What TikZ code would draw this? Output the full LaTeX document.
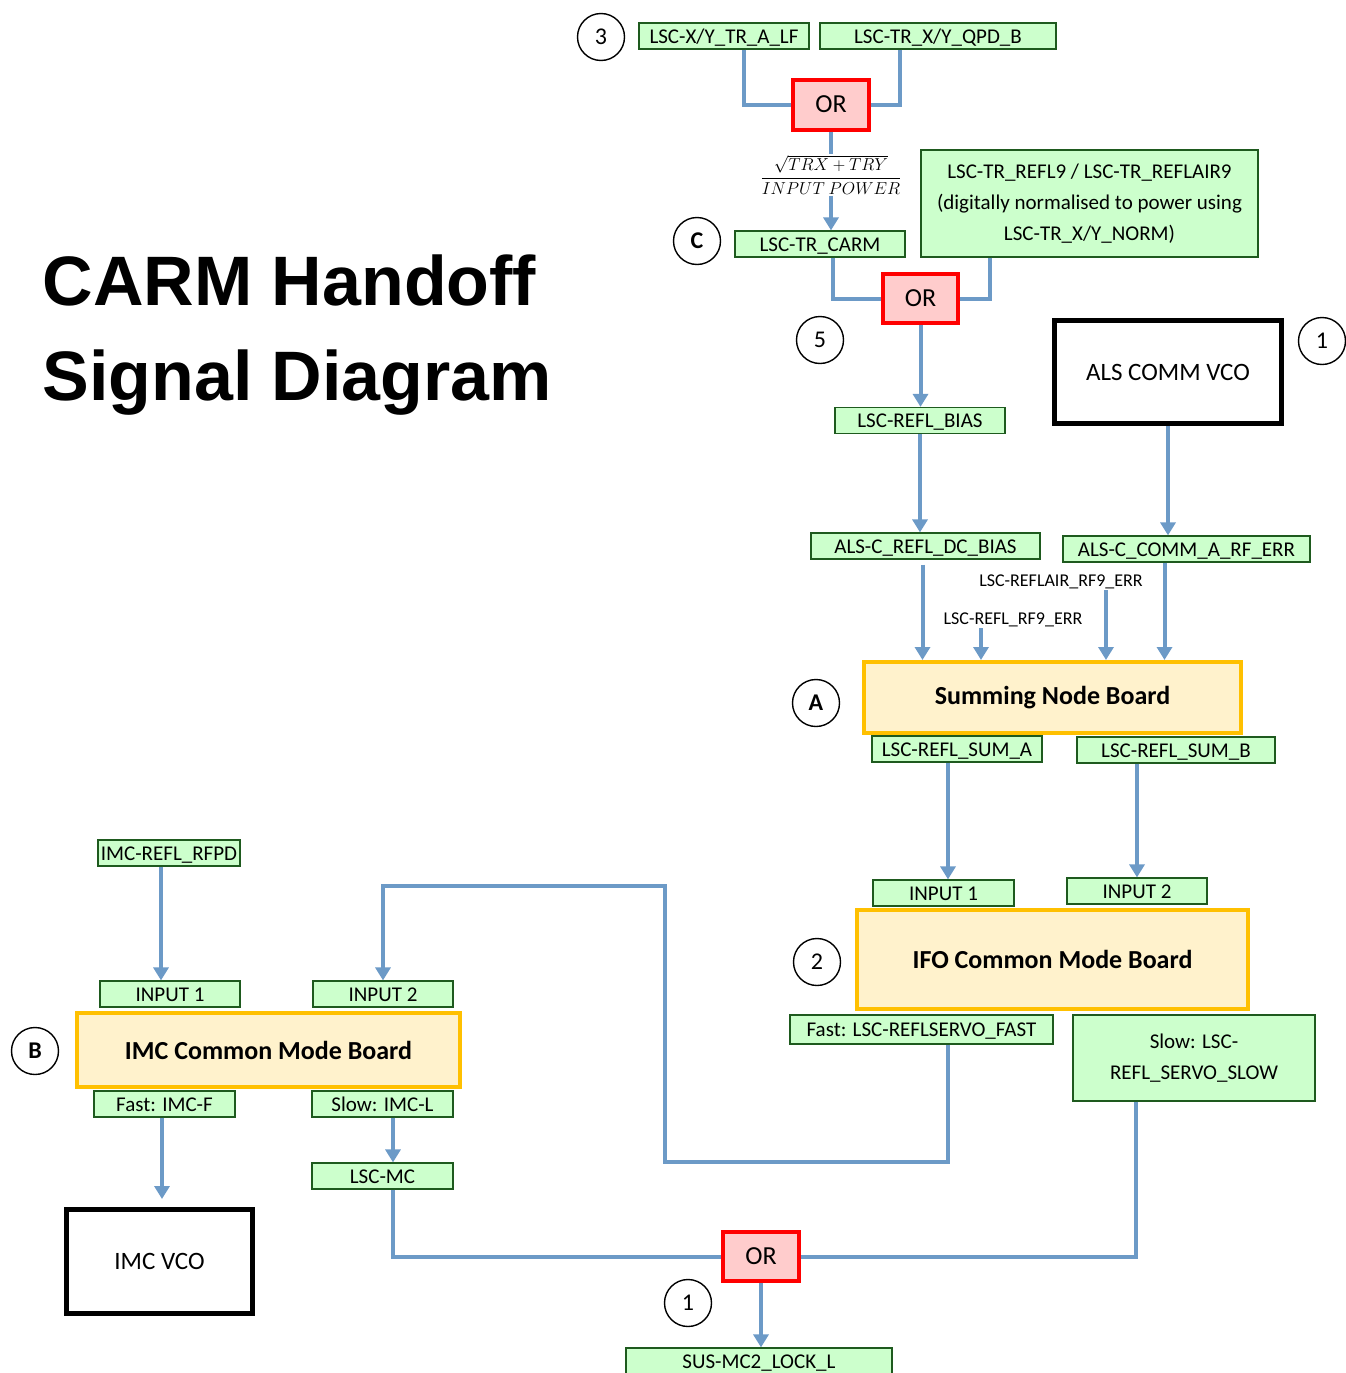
\documentclass[tikz,border=0pt]{standalone}
\usepackage{fontspec}
\setmainfont{Carlito}
\newfontfamily\titlefont{Liberation Sans}
\usetikzlibrary{arrows.meta}

\definecolor{wireblue}{RGB}{108,154,199}
\definecolor{siggreen}{RGB}{204,255,204}
\definecolor{sigline}{RGB}{30,90,30}
\definecolor{orfill}{RGB}{255,204,204}
\definecolor{boardline}{RGB}{255,192,0}
\definecolor{boardfill}{RGB}{255,242,204}

\begin{document}
\begin{tikzpicture}[x=1pt,y=-1pt,
        sig/.style={draw=sigline,fill=siggreen,line width=1.2pt,inner sep=0pt,
                    minimum width=#1,minimum height=26pt,align=center,
                    text height=15.5pt,text depth=1pt,
                    font=\fontsize{21}{31}\selectfont},
        multi/.style={text height={},text depth={}},
        orgate/.style={draw=red,fill=orfill,line width=4pt,inner sep=0pt,
                    minimum width=76pt,minimum height=50pt,font=\fontsize{26}{30}\selectfont},
        board/.style={draw=boardline,fill=boardfill,line width=4pt,inner sep=0pt,
                    font=\bfseries\fontsize{26}{30}\selectfont},
        vco/.style={draw=black,line width=5pt,inner sep=0pt,
                    font=\fontsize{25}{30}\selectfont},
        tag/.style={circle,draw,line width=1.4pt,minimum size=47pt,inner sep=0pt,
                    font=\fontsize{24}{28}\selectfont},
        note/.style={inner sep=1pt,font=\fontsize{18}{20}\selectfont},
        wire/.style={draw=wireblue,line width=4pt},
        feed/.style={wire,-{Triangle[width=15pt,length=13pt]}}]

        \useasboundingbox (0,0) rectangle (1345,1373);

        % Title
        \node[anchor=base west,font=\titlefont\bfseries\fontsize{70}{84}\selectfont] (title1) at (39,305) {CARM Handoff};
        \node[anchor=base west,font=\titlefont\bfseries\fontsize{70}{84}\selectfont] (title2) at (39,400) {Signal Diagram};

        % Define vertices
        \node[tag] (tag3) at (601,37) {3};
        \node[sig=170] (trlf) at (724,36) {LSC-X/Y\_TR\_A\_LF};
        \node[sig=236] (qpdb) at (938,36) {LSC-TR\_X/Y\_QPD\_B};
        \node[orgate] (or1) at (831,104.5) {OR};
        \node[inner sep=1pt] (frac) at (831,175)
            {\fontsize{17}{19}\selectfont$\displaystyle\frac{\sqrt{TRX+TRY}}{INPUT\ POWER}$};
        \node[tag,font=\bfseries\fontsize{24}{28}\selectfont] (tagC) at (697,241) {C};
        \node[sig=170] (carm) at (820,244) {LSC-TR\_CARM};
        \node[sig=337,multi,minimum height=107pt] (norm) at (1089.5,203.5)
            {LSC-TR\_REFL9 / LSC-TR\_REFLAIR9\\(digitally normalised to power using\\LSC-TR\_X/Y\_NORM)};
        \node[orgate,minimum width=75pt,minimum height=49pt] (or2) at (920.5,298.5) {OR};
        \node[tag] (tag5) at (820,340) {5};
        \node[sig=170] (reflbias) at (920,420.5) {LSC-REFL\_BIAS};
        \node[vco,minimum width=227pt,minimum height=103pt] (alsvco) at (1168,372) {ALS COMM VCO};
        \node[tag] (tag1a) at (1322,341) {1};
        \node[sig=229] (dcbias) at (925.5,546) {ALS-C\_REFL\_DC\_BIAS};
        \node[sig=247] (commerr) at (1186.5,549) {ALS-C\_COMM\_A\_RF\_ERR};
        \node[note] (reflair) at (1061,582) {LSC-REFLAIR\_RF9\_ERR};
        \node[note] (refl) at (1013,620) {LSC-REFL\_RF9\_ERR};
        \node[board,minimum width=377pt,minimum height=71pt] (sum) at (1052.5,697.5) {Summing Node Board};
        \node[tag,font=\bfseries\fontsize{24}{28}\selectfont] (tagA) at (816,703) {A};
        \node[sig=170] (suma) at (957,749) {LSC-REFL\_SUM\_A};
        \node[sig=198] (sumb) at (1176,750) {LSC-REFL\_SUM\_B};
        \node[sig=141] (ifoin1) at (943.5,893) {INPUT 1};
        \node[sig=140] (ifoin2) at (1137,891) {INPUT 2};
        \node[board,minimum width=391pt,minimum height=99pt] (ifo) at (1052.5,959.5) {IFO Common Mode Board};
        \node[tag] (tag2) at (817,962) {2};
        \node[sig=263,minimum height=29pt] (ifofast) at (921.5,1029.5) {Fast: LSC-REFLSERVO\_FAST};
        \node[sig=242,multi,minimum height=86pt] (ifoslow) at (1194,1058) {Slow: LSC-\\REFL\_SERVO\_SLOW};
        \node[sig=142] (rfpd) at (169,853) {IMC-REFL\_RFPD};
        \node[sig=140] (imcin1) at (170,994) {INPUT 1};
        \node[sig=140] (imcin2) at (383,994) {INPUT 2};
        \node[board,minimum width=383pt,minimum height=74pt] (imc) at (268.5,1050) {IMC Common Mode Board};
        \node[tag,font=\bfseries\fontsize{24}{28}\selectfont] (tagB) at (35,1051) {B};
        \node[sig=141] (imcfast) at (164.5,1104) {Fast: IMC-F};
        \node[sig=141] (imcslow) at (382.5,1104) {Slow: IMC-L};
        \node[sig=141] (lscmc) at (382.5,1176) {LSC-MC};
        \node[vco,minimum width=186pt,minimum height=104pt] (imcvco) at (159.5,1261.5) {IMC VCO};
        \node[orgate,minimum height=49pt] (or3) at (761,1256.5) {OR};
        \node[tag] (tag1b) at (688,1303) {1};
        \node[sig=266] (sus) at (759,1361) {SUS-MC2\_LOCK\_L};

        \coordinate (loopbot) at (665,1162);
        \coordinate (looptop) at (383,886);

        % Draw edges
        \draw[wire] ([xshift=20pt]trlf.south) |- (or1.west);
        \draw[wire] ([xshift=-38pt]qpdb.south) |- (or1.east);
        \draw[wire] (or1.south) -- (frac.north);
        \draw[feed] (frac.south) -- (frac.south |- carm.north);
        \draw[wire] ([xshift=13pt]carm.south) |- (or2.west);
        \draw[wire] ([xshift=-100pt]norm.south) |- (or2.east);
        \draw[feed] (or2.south) -- (or2.south |- reflbias.north);
        \draw[feed] (reflbias.south) -- (reflbias.south |- dcbias.north);
        \draw[feed] (alsvco.south) -- (alsvco.south |- commerr.north);
        \draw[feed,shorten <=5pt] ([xshift=-3pt]dcbias.south) -- ([xshift=-3pt]dcbias.south |- sum.north);
        \draw[feed] ([xshift=-32pt]refl.south) -- ([xshift=-32pt]refl.south |- sum.north);
        \draw[feed] ([xshift=45pt]reflair.south) -- ([xshift=45pt]reflair.south |- sum.north);
        \draw[feed] ([xshift=-22pt]commerr.south) -- ([xshift=-22pt]commerr.south |- sum.north);
        \draw[feed] ([xshift=-9pt]suma.south) -- ([xshift=-9pt]suma.south |- ifoin1.north);
        \draw[feed] ([xshift=-39pt]sumb.south) -- ([xshift=-39pt]sumb.south |- ifoin2.north);
        \draw[feed] ([xshift=26.5pt]ifofast.south) |- (loopbot) |- (looptop) -- (imcin2.north);
        \draw[feed] ([xshift=-8pt]rfpd.south) -- ([xshift=-8pt]rfpd.south |- imcin1.north);
        \draw[feed] ([xshift=10.5pt]imcslow.south) -- ([xshift=10.5pt]imcslow.south |- lscmc.north);
        \draw[feed,shorten >=8pt] ([xshift=-2.5pt]imcfast.south) -- ([xshift=-2.5pt]imcfast.south |- imcvco.north);
        \draw[wire] ([xshift=10.5pt]lscmc.south) |- (or3.west);
        \draw[wire] ([xshift=-58pt]ifoslow.south) |- (or3.east);
        \draw[feed] (or3.south) -- (or3.south |- sus.north);
\end{tikzpicture}
\end{document}
